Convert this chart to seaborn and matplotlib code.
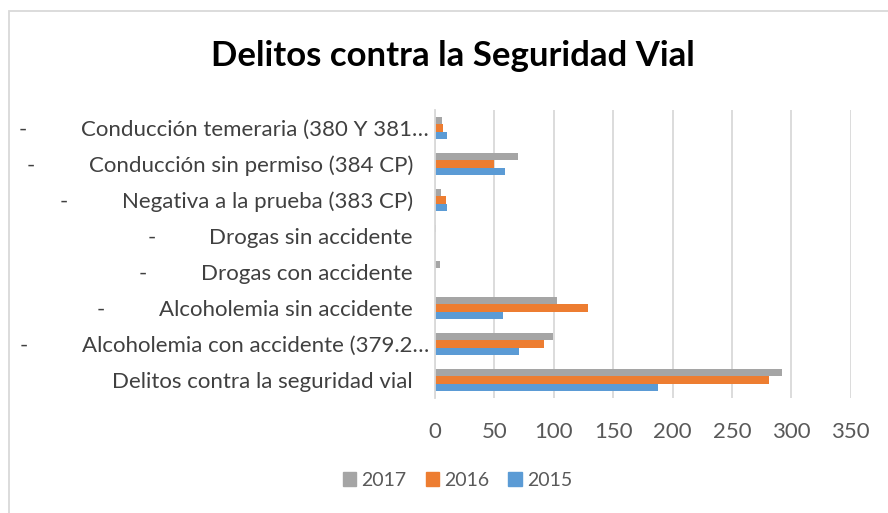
import seaborn as sns
import pandas as pd
import matplotlib.pyplot as plt
from matplotlib.patches import Rectangle
from matplotlib.transforms import ScaledTranslation

categorias = [
    "Conducción temeraria (380 Y 381…",
    "Conducción sin permiso (384 CP)",
    "Negativa a la prueba (383 CP)",
    "Drogas sin accidente",
    "Drogas con accidente",
    "Alcoholemia sin accidente",
    "Alcoholemia con accidente (379.2…",
    "Delitos contra la seguridad vial",
]
con_guion = [True, True, True, True, True, True, True, False]
anios = ["2017", "2016", "2015"]
v2017 = [6, 70, 5, 0.5, 4, 103, 99, 292]
v2016 = [7, 50, 9, 0, 0, 129, 92, 281]
v2015 = [10, 59, 10, 0, 0, 57, 71, 188]
colores = ["#A5A5A5", "#ED7D31", "#5B9BD5"]

rows = []
for anio, vals in zip(anios, [v2017, v2016, v2015]):
    for cat, v in zip(categorias, vals):
        rows.append({"categoria": cat, "anio": anio, "valor": v})
data = pd.DataFrame(rows)

sns.set_style("white")
plt.rcParams["font.family"] = ["Lato", "DejaVu Sans"]

fig = plt.figure(figsize=(8.88, 5.13), dpi=100)
ax = fig.add_axes([0.490, 0.224, 0.468, 0.562])

sns.barplot(data=data, y="categoria", x="valor", hue="anio", order=categorias,
            hue_order=anios, palette=colores, width=0.62, orient="h",
            saturation=1, linewidth=0, ax=ax, legend=True)

ax.set_xlim(0, 350)
ax.set_xticks(range(0, 351, 50))
ax.set_xlabel("")
ax.set_ylabel("")
ax.grid(axis="x", color="#D9D9D9", linewidth=1.3)
ax.set_axisbelow(True)
for s in ["top", "right", "bottom"]:
    ax.spines[s].set_visible(False)
ax.spines["left"].set_color("#D9D9D9")
ax.spines["left"].set_linewidth(1.3)
ax.tick_params(axis="x", length=0, pad=17, labelsize=16, labelcolor="#595959")
ax.tick_params(axis="y", length=0, pad=16, labelsize=16, labelcolor="#404040")

for lbl in ax.get_yticklabels():
    if lbl.get_text().endswith("…"):
        lbl.set_transform(lbl.get_transform() + ScaledTranslation(0.16, 0, fig.dpi_scale_trans))

fig.canvas.draw()
renderer = fig.canvas.get_renderer()
inv = fig.transFigure.inverted()
for lbl, g in zip(ax.get_yticklabels(), con_guion):
    if not g:
        continue
    bb = lbl.get_window_extent(renderer)
    x0, y0 = inv.transform((bb.x0 - 54, (bb.y0 + bb.y1) / 2))
    fig.text(x0, y0, "-", ha="right", va="center", fontsize=16, color="#404040")

ax.legend_.remove()
handles = [Rectangle((0, 0), 1, 1, color=c) for c in colores]
fig.legend(handles, anios, loc="center", bbox_to_anchor=(0.515, 0.064), ncol=3,
           frameon=False, fontsize=14, handlelength=0.68, handleheight=0.68,
           handletextpad=0.26, columnspacing=1.0, labelcolor="#595959")

fig.text(0.51, 1 - 66 / 513, "Delitos contra la Seguridad Vial", ha="center",
         va="baseline", fontsize=25, fontweight="bold", color="black")

fig.patches.append(Rectangle((9 / 888, -0.1), 1.2, 1 - 11 / 513 + 0.1,
                             transform=fig.transFigure, fill=False,
                             edgecolor="#D9D9D9", linewidth=1.3))

fig.savefig("out.png", dpi=100)
